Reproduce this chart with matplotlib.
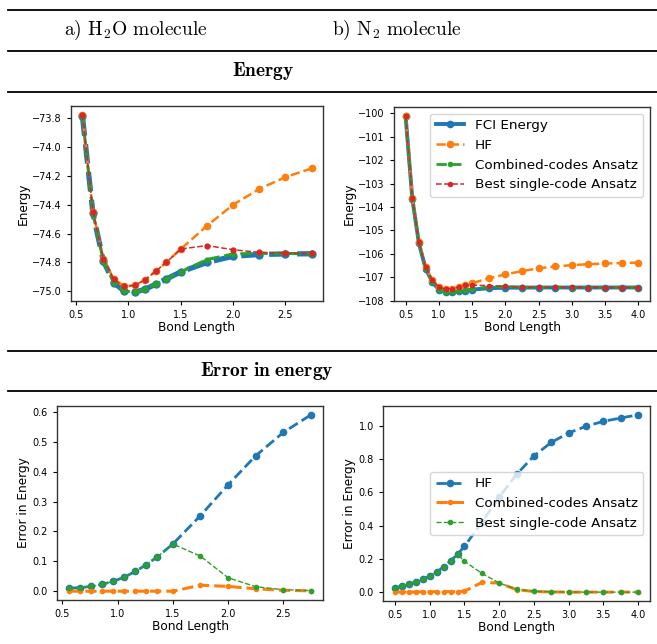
import numpy as np
from matplotlib import pyplot as plt
from matplotlib.lines import Line2D

plt.rcParams['mathtext.fontset'] = 'cm'

# H2O bond lengths and energies
x_h2o = [0.56, 0.66, 0.76, 0.86, 0.96, 1.06, 1.16, 1.26, 1.36, 1.5, 1.75, 2.0, 2.25, 2.5, 2.75]
fci_h2o = [-73.790, -74.460, -74.790, -74.940, -74.998, -75.005, -74.985, -74.950, -74.915,
           -74.865, -74.800, -74.757, -74.745, -74.741, -74.740]
hf_h2o = [-73.780, -74.448, -74.774, -74.917, -74.965, -74.958, -74.919, -74.861, -74.800,
          -74.707, -74.547, -74.401, -74.292, -74.210, -74.150]
comb_h2o = [-73.790, -74.460, -74.790, -74.940, -74.998, -75.005, -74.985, -74.950, -74.915,
            -74.865, -74.780, -74.741, -74.737, -74.738, -74.739]
best_h2o = [-73.780, -74.448, -74.774, -74.917, -74.965, -74.958, -74.919, -74.861, -74.800,
            -74.707, -74.683, -74.712, -74.730, -74.736, -74.738]

# N2 bond lengths and energies
x_n2 = [0.5, 0.6, 0.7, 0.8, 0.9, 1.0, 1.1, 1.2, 1.3, 1.4, 1.5, 1.75, 2.0, 2.25, 2.5, 2.75,
        3.0, 3.25, 3.5, 3.75, 4.0]
fci_n2 = [-100.130, -103.640, -105.550, -106.630, -107.190, -107.530, -107.620, -107.640,
          -107.610, -107.570, -107.530, -107.470, -107.450, -107.445, -107.440, -107.440,
          -107.440, -107.440, -107.440, -107.440, -107.440]
hf_n2 = [-100.104, -103.604, -105.502, -106.569, -107.113, -107.433, -107.499, -107.488,
         -107.422, -107.342, -107.255, -107.050, -106.880, -106.738, -106.622, -106.541,
         -106.484, -106.444, -106.414, -106.394, -106.375]
comb_n2 = [-100.129, -103.639, -105.549, -106.629, -107.188, -107.528, -107.617, -107.637,
           -107.607, -107.567, -107.524, -107.412, -107.395, -107.430, -107.436, -107.439,
           -107.440, -107.440, -107.440, -107.440, -107.440]
best_n2 = [-100.104, -103.604, -105.502, -106.569, -107.113, -107.433, -107.499, -107.488,
           -107.422, -107.342, -107.345, -107.357, -107.395, -107.428, -107.435, -107.438,
           -107.439, -107.440, -107.440, -107.440, -107.440]

W, H = 657, 644
fig = plt.figure(figsize=(W / 100, H / 100), dpi=100)


def box(l, t, r, b):
    return [l / W, 1 - b / H, (r - l) / W, (b - t) / H]


def hrule(y):
    fig.add_artist(Line2D([8 / W, 1], [1 - y / H, 1 - y / H], transform=fig.transFigure,
                          color='black', lw=1.3))


for y in [10, 50.5, 91.5, 350.5, 391]:
    hrule(y)

fig.text(136 / W, 1 - 30 / H, r'a) H$_2$O molecule', ha='center', va='center',
         fontsize=14, family='cmr10')
fig.text(397 / W, 1 - 30 / H, r'b) N$_2$ molecule', ha='center', va='center',
         fontsize=14, family='cmr10')
fig.text(263 / W, 1 - 71 / H, r'$\mathbf{Energy}$', ha='center', va='center', fontsize=14)
fig.text(267 / W, 1 - 371 / H, r'$\mathbf{Error\ in\ energy}$', ha='center', va='center',
         fontsize=14)

ax1 = fig.add_axes(box(71, 106, 323, 301))
ax2 = fig.add_axes(box(394, 107, 650, 301))
ax3 = fig.add_axes(box(57, 406, 323, 600))
ax4 = fig.add_axes(box(383, 406, 650, 601))

# energy plots
ax1.plot(x_h2o, fci_h2o, '--o', lw=3.8, ms=5, label='FCI Energy')
ax1.plot(x_h2o, hf_h2o, '--o', lw=1.8, ms=4.5, label='HF')
ax1.plot(x_h2o, comb_h2o, '--o', lw=2.2, ms=3.5, label='Combined-codes Ansatz')
ax1.plot(x_h2o, best_h2o, '--o', lw=1.1, ms=3.5, label='Best single-code Ansatz')

ax2.plot(x_n2, fci_n2, '-o', lw=2.8, ms=4.5, label='FCI Energy')
ax2.plot(x_n2, hf_n2, '--o', lw=1.8, ms=4.5, label='HF')
ax2.plot(x_n2, comb_n2, '--o', lw=2.0, ms=3, label='Combined-codes Ansatz')
ax2.plot(x_n2, best_n2, '--o', lw=1.1, ms=3, label='Best single-code Ansatz')
ax2.legend(loc='upper right', fontsize=9.7, handlelength=2.1)

# error plots
for ax, x, fci, hf, comb, best in [(ax3, x_h2o, fci_h2o, hf_h2o, comb_h2o, best_h2o),
                                   (ax4, x_n2, fci_n2, hf_n2, comb_n2, best_n2)]:
    fci = np.array(fci)
    ax.plot(x, np.array(hf) - fci, '--o', lw=2.0, ms=4.5, label='HF')
    ax.plot(x, np.array(comb) - fci, '--o', lw=2.2, ms=3, label='Combined-codes Ansatz')
    ax.plot(x, np.array(best) - fci, '--o', lw=1.0, ms=3, label='Best single-code Ansatz')
ax4.legend(loc='center right', fontsize=9.7, handlelength=2.1)

for ax in [ax1, ax2, ax3, ax4]:
    ax.tick_params(labelsize=7, length=3, width=0.8)
    ax.set_xlabel('Bond Length', fontsize=8.7, labelpad=1)
    for s in ax.spines.values():
        s.set_color('#333333')
        s.set_linewidth(1.0)
ax1.set_ylabel('Energy', fontsize=8.7, labelpad=2)
ax2.set_ylabel('Energy', fontsize=8.7, labelpad=2)
ax3.set_ylabel('Error in Energy', fontsize=8.7, labelpad=2)
ax4.set_ylabel('Error in Energy', fontsize=8.7, labelpad=2)
ax2.set_xticks([0.5, 1.0, 1.5, 2.0, 2.5, 3.0, 3.5, 4.0])
ax4.set_xticks([0.5, 1.0, 1.5, 2.0, 2.5, 3.0, 3.5, 4.0])

fig.savefig('out.png', dpi=100)
